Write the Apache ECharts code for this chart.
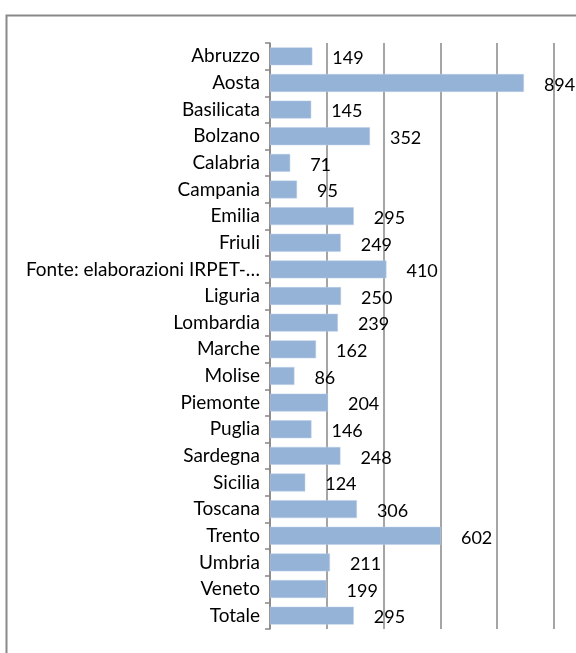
<!DOCTYPE html>
<html>
<head>
<meta charset="utf-8">
<script src="https://cdn.jsdelivr.net/npm/echarts@6/dist/echarts.min.js"></script>
<style>html,body{margin:0;padding:0;background:#fff}#c{width:576px;height:653px}</style>
</head>
<body>
<div id="c"></div>
<script>
const categories = ["Abruzzo","Aosta","Basilicata","Bolzano","Calabria","Campania","Emilia","Friuli","Fonte: elaborazioni IRPET-…","Liguria","Lombardia","Marche","Molise","Piemonte","Puglia","Sardegna","Sicilia","Toscana","Trento","Umbria","Veneto","Totale"];
const values = [149,894,145,352,71,95,295,249,410,250,239,162,86,204,146,248,124,306,602,211,199,295];
const valueMin = 0, valueMax = 1000, valueInterval = 200;

const chart = echarts.init(document.getElementById('c'));
chart.setOption({
  animation: false,
  textStyle: { fontFamily: 'Lato' },
  graphic: [{
    type: 'rect', left: 4, top: 13, shape: { width: 620, height: 700 },
    style: { fill: 'none', stroke: '#898989', lineWidth: 2 }, z: -10
  }],
  grid: { left: 270, right: 22, top: 43, bottom: 24, containLabel: false },
  xAxis: {
    type: 'value', min: valueMin, max: valueMax, interval: valueInterval,
    axisLabel: { show: false }, axisLine: { show: false }, axisTick: { show: false },
    splitLine: { show: true, lineStyle: { color: '#878787', width: 1.5 } }
  },
  yAxis: {
    type: 'category', data: categories, inverse: true,
    axisLine: { show: true, lineStyle: { color: '#878787', width: 1.5 } },
    axisTick: { show: true, length: 5, lineStyle: { color: '#878787', width: 1.5 } },
    axisLabel: { color: '#000', fontSize: 19, margin: 10, fontFamily: 'Lato' }
  },
  series: [{
    type: 'bar', data: values, barCategoryGap: '33%',
    itemStyle: { color: '#95b3d7', borderColor: '#b9cde6', borderWidth: 0.5 },
    label: { show: true, position: 'right', distance: 20, offset: [0, 2], color: '#000', fontSize: 18, fontFamily: 'Lato' }
  }]
});
</script>
</body>
</html>
